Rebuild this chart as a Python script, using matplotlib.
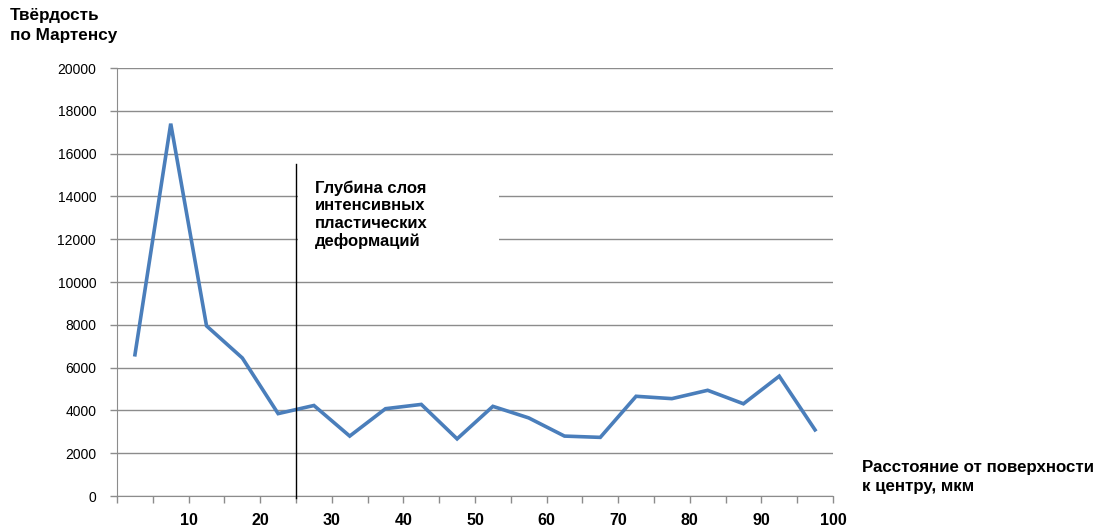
import matplotlib.pyplot as plt
from matplotlib.patches import Rectangle

plt.rcParams['font.family'] = ['Liberation Sans', 'DejaVu Sans']

# distance from surface, um (category centres) and Martens hardness
distance = [2.5, 7.5, 12.5, 17.5, 22.5, 27.5, 32.5, 37.5, 42.5, 47.5,
            52.5, 57.5, 62.5, 67.5, 72.5, 77.5, 82.5, 87.5, 92.5, 97.5]
hardness = [6600, 17400, 7950, 6450, 3850, 4230, 2800, 4080, 4280, 2670,
            4190, 3650, 2800, 2740, 4660, 4550, 4940, 4310, 5600, 3090]
x_ticks = [10, 20, 30, 40, 50, 60, 70, 80, 90, 100]
y_ticks = [0, 2000, 4000, 6000, 8000, 10000, 12000, 14000, 16000, 18000, 20000]
layer_depth = 25

fig = plt.figure(figsize=(10.98, 5.31), dpi=100)
ax = fig.add_axes([0.1066, 0.0659, 0.652, 0.806])

grid_col = '#8c8c8c'
for v in y_ticks:
    ax.axhline(v, color=grid_col, lw=1.0, zorder=1)

# white box behind the annotation hides part of the grid
ax.add_patch(Rectangle((25.3, 11000), 28, 4000, facecolor='white',
                       edgecolor='none', zorder=2))

ax.plot(distance, hardness, color='#4A7EBB', lw=2.6, zorder=4,
        solid_joinstyle='miter')
ax.plot([layer_depth, layer_depth], [-100, 15500], color='black', lw=1.0,
        zorder=5, clip_on=False)

ax.text(27.6, 14750, 'Глубина слоя\nинтенсивных\nпластических\nдеформаций',
        fontsize=12, fontweight='bold', va='top', ha='left',
        linespacing=1.2, zorder=6)

ax.set_xlim(0, 100)
ax.set_ylim(0, 20000)
ax.set_yticks(y_ticks)
ax.set_yticklabels([str(v) for v in y_ticks], fontsize=10)
ax.xaxis.remove_overlapping_locs = False
ax.set_xticks(range(0, 101, 5))
ax.set_xticks(x_ticks, minor=True)
ax.set_xticklabels([])
ax.set_xticklabels([str(v) for v in x_ticks], minor=True, fontsize=11.5,
                   fontweight='bold')
ax.tick_params(axis='x', which='major', direction='out', length=5,
               color=grid_col, width=1)
ax.tick_params(axis='x', which='minor', length=0, pad=12)
ax.tick_params(axis='y', direction='out', length=5, color=grid_col,
               width=1, pad=10)

for s in ['top', 'right']:
    ax.spines[s].set_visible(False)
ax.spines['left'].set_color(grid_col)
ax.spines['bottom'].set_color(grid_col)

fig.text(10 / 1098, 1 - 8 / 531, 'Твёрдость\nпо Мартенсу', fontsize=12.3,
         fontweight='bold', va='top', ha='left', linespacing=1.4)
fig.text(862 / 1098, 1 - 460 / 531, 'Расстояние от поверхности\nк центру, мкм',
         fontsize=12.2, fontweight='bold', va='top', ha='left',
         linespacing=1.3)

fig.savefig('out.png', dpi=100)
